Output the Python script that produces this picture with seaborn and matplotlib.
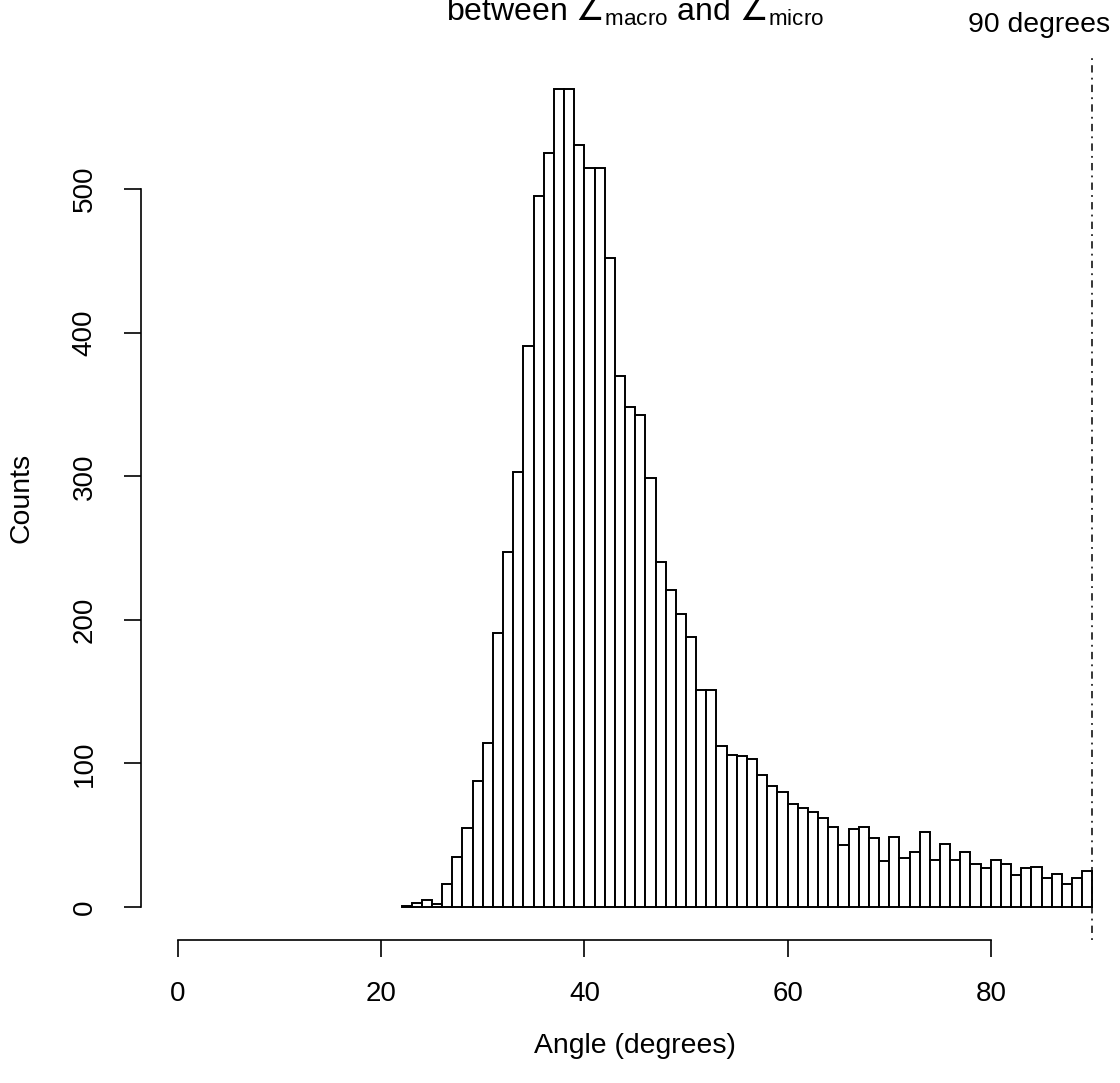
import numpy as np
import pandas as pd
import matplotlib
matplotlib.use("Agg")
import matplotlib.pyplot as plt
import seaborn as sns

# Histogram of angles, one-degree bins from 22 to 90 degrees
bin_left = list(range(22, 90))
counts = [1, 3, 5, 2, 16, 35, 55, 88, 114, 191,
          247, 303, 391, 495, 525, 570, 570, 531, 515, 515,
          452, 370, 348, 343, 299, 240, 221, 204, 188, 151,
          151, 112, 106, 105, 103, 92, 84, 80, 72, 69,
          66, 62, 56, 43, 54, 56, 48, 32, 49, 34,
          38, 52, 33, 44, 33, 38, 30, 27, 33, 30,
          22, 27, 28, 20, 23, 16, 20, 25]
x_ticks = [0, 20, 40, 60, 80]
y_ticks = [0, 100, 200, 300, 400, 500]
ref_angle = 90

sns.set_theme(style="white")
plt.rcParams["font.family"] = ["Liberation Sans", "DejaVu Sans"]
plt.rcParams["text.color"] = "black"
# math symbols (angle sign) from DejaVu Sans, subscripts in Liberation Sans
plt.rcParams["mathtext.fontset"] = "custom"
plt.rcParams["mathtext.rm"] = "DejaVu Sans"
plt.rcParams["mathtext.it"] = "DejaVu Sans"
plt.rcParams["mathtext.sf"] = "Liberation Sans"

W, H = 1120, 1083
fig = plt.figure(figsize=(W / 100, H / 100), dpi=100)

# plot region in pixels (R-style: 4% padding around data range)
left_px, right_px = 141.4, 1129.0
top_px, bottom_px = 56.0, 939.7
ax = fig.add_axes([left_px / W, 1 - bottom_px / H,
                   (right_px - left_px) / W, (bottom_px - top_px) / H])

df = pd.DataFrame({"angle": np.array(bin_left) + 0.5, "count": counts})
sns.histplot(data=df, x="angle", weights="count", binwidth=1,
             binrange=(bin_left[0], bin_left[-1] + 1), stat="count",
             color="white", edgecolor="black", linewidth=1.4, alpha=1,
             ax=ax)

xlo, xhi = 0, ref_angle
ymax = max(counts)
ax.set_xlim(xlo - 0.04 * (xhi - xlo), xhi + 0.04 * (xhi - xlo))
ax.set_ylim(-0.04 * ymax, ymax * 1.04)

# reference line at 90 degrees (dot-dash)
ax.axvline(ref_angle, color="black", linewidth=1.1,
           linestyle=(0, (1.2, 3.4, 4.8, 3.4)), zorder=5)

for side in ["top", "right"]:
    ax.spines[side].set_visible(False)
ax.spines["left"].set_bounds(y_ticks[0], y_ticks[-1])
ax.spines["bottom"].set_bounds(x_ticks[0], x_ticks[-1])
for side in ["left", "bottom"]:
    ax.spines[side].set_color("black")
    ax.spines[side].set_linewidth(1.2)

ax.set_xticks(x_ticks)
ax.set_yticks(y_ticks)
ax.set_xticklabels([str(v) for v in x_ticks])
ax.set_yticklabels([str(v) for v in y_ticks], rotation=90, va="center")
ax.tick_params(axis="both", which="major", bottom=True, left=True,
               direction="out", length=12.5, width=1.2,
               color="black", labelsize=20, labelcolor="black")
ax.tick_params(axis="x", pad=17)
ax.tick_params(axis="y", pad=19)
ax.set_xlabel("")
ax.set_ylabel("")

fig.text(635 / W, 1 - 1053 / H, "Angle (degrees)", ha="center",
         va="baseline", fontsize=20.4, color="black")
fig.text(22 / W, 1 - 498 / H, "Counts", ha="center", va="center",
         rotation=90, fontsize=20.4, color="black")
fig.text(635 / W, 1 - 21 / H,
         r"between $\angle_{\mathsf{macro}}$ and $\angle_{\mathsf{micro}}$",
         ha="center", va="baseline", fontsize=23, color="black")
fig.text(1038.7 / W, 1 - 32 / H, "90 degrees", ha="center",
         va="baseline", fontsize=20.4, color="black")

fig.savefig("out.png", dpi=100, facecolor="white")
